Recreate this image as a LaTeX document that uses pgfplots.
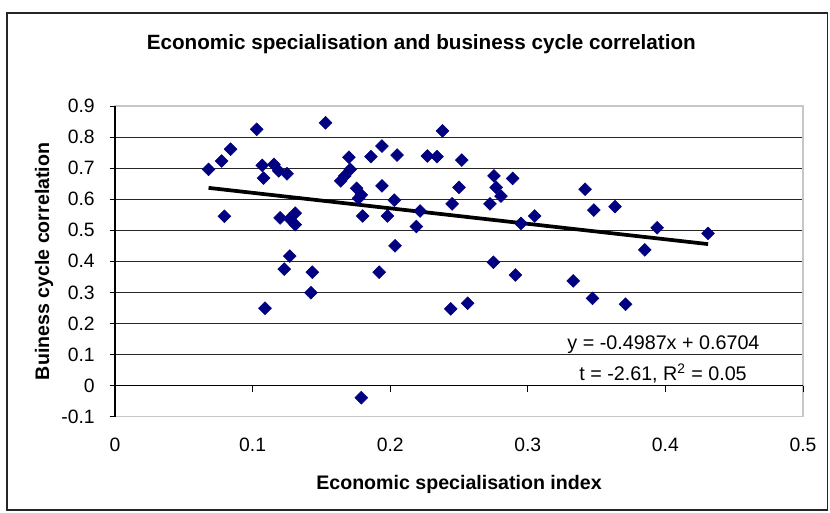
\documentclass[border=0pt]{standalone}
\usepackage{pgfplots}
\pgfplotsset{compat=1.18}
\usepackage{fontspec}
\setmainfont{Liberation Sans}
\definecolor{navy}{HTML}{000080}
\begin{document}
\begin{tikzpicture}
\useasboundingbox (0,0) rectangle (622.5pt,384pt);
\draw[line width=1pt, black!85] (5.25pt,374.25pt) rectangle (620.5pt,1.5pt);
\node[font=\bfseries\fontsize{15.5}{18}\selectfont] at (316pt,351pt) {Economic specialisation and business cycle correlation};
\begin{axis}[
  at={(86.25pt,71.5pt)}, anchor=south west,
  scale only axis, width=516pt, height=233pt,
  xmin=0, xmax=0.5, ymin=-0.1, ymax=0.9,
  xtick={0,0.1,0.2,0.3,0.4,0.5},
  xticklabels={0,0.1,0.2,0.3,0.4,0.5},
  ytick={-0.1,0,0.1,0.2,0.3,0.4,0.5,0.6,0.7,0.8,0.9},
  yticklabels={-0.1,0,0.1,0.2,0.3,0.4,0.5,0.6,0.7,0.8,0.9},
  tick pos=left,
  ymajorgrids,
  grid style={black!85, line width=0.6pt},
  axis line style={draw=black!22, line width=1.2pt},
  xtick style={draw=none},
  ytick style={black, line width=0.6pt},
  tick align=outside, major tick length=4pt,
  ticklabel style={font=\fontsize{14.5}{17}\selectfont, inner sep=0pt},
  xticklabel style={anchor=center, yshift=-17.5pt},
  yticklabel style={anchor=east, xshift=-11pt},
  xlabel={\textbf{Economic specialisation index}},
  ylabel={\textbf{Buiness cycle correlation}},
  label style={font=\bfseries\fontsize{14.7}{17}\selectfont},
  xlabel style={at={(axis description cs:0.5,-0.217)}, anchor=center},
  ylabel style={at={(axis description cs:-0.103,0.5)}, anchor=center, rotate=0},
  clip=false,
]
\draw[black, line width=0.8pt] (axis cs:0,-0.1) -- (axis cs:0,0.9);
\draw[black, line width=0.8pt] (axis cs:0,0) -- (axis cs:0.5,0);
\draw[black, line width=0.7pt] (axis cs:0.1,0) -- (axis cs:0.1,-0.0195);
\draw[black, line width=0.7pt] (axis cs:0.2,0) -- (axis cs:0.2,-0.0195);
\draw[black, line width=0.7pt] (axis cs:0.3,0) -- (axis cs:0.3,-0.0195);
\draw[black, line width=0.7pt] (axis cs:0.4,0) -- (axis cs:0.4,-0.0195);
\draw[black, line width=0.7pt] (axis cs:0.5,0) -- (axis cs:0.5,-0.0195);
\addplot[only marks, mark=square*, mark size=3.4pt, mark options={rotate=45, fill=navy, draw=navy}] coordinates {
(0.068,0.696) (0.0775,0.723) (0.084,0.761) (0.0795,0.545) (0.103,0.825)
(0.107,0.709) (0.108,0.668) (0.1155,0.712) (0.119,0.691) (0.125,0.682)
(0.120,0.540) (0.127,0.537) (0.131,0.555) (0.131,0.518) (0.127,0.417)
(0.123,0.375) (0.109,0.249) (0.153,0.846) (0.1434,0.365) (0.1424,0.299)
(0.170,0.735) (0.171,0.696) (0.167,0.675) (0.164,0.659) (0.1756,0.635)
(0.179,0.614) (0.177,0.603) (0.180,0.546) (0.186,0.737) (0.194,0.771)
(0.205,0.742) (0.194,0.643) (0.203,0.597) (0.198,0.546) (0.2035,0.450)
(0.192,0.365) (0.179,-0.039) (0.227,0.739) (0.234,0.737) (0.238,0.820)
(0.252,0.726) (0.250,0.638) (0.245,0.585) (0.2217,0.562) (0.219,0.512)
(0.244,0.247) (0.2563,0.265) (0.2754,0.675) (0.277,0.638) (0.2805,0.610)
(0.289,0.667) (0.2725,0.585) (0.295,0.522) (0.305,0.546) (0.275,0.397)
(0.291,0.356) (0.3416,0.632) (0.348,0.565) (0.3634,0.576) (0.333,0.337)
(0.347,0.281) (0.371,0.262) (0.385,0.437) (0.394,0.508) (0.431,0.490)
};
\addplot[black, line width=2.8pt] coordinates {(0.068,0.6365) (0.431,0.4555)};
\end{axis}
\node[font=\fontsize{14.8}{17}\selectfont] at (497.6pt,125.25pt) {y = -0.4987x + 0.6704};
\node[font=\fontsize{14.8}{17}\selectfont] at (497.25pt,104.25pt) {t = -2.61, R\textsuperscript{2} = 0.05};
\end{tikzpicture}
\end{document}
